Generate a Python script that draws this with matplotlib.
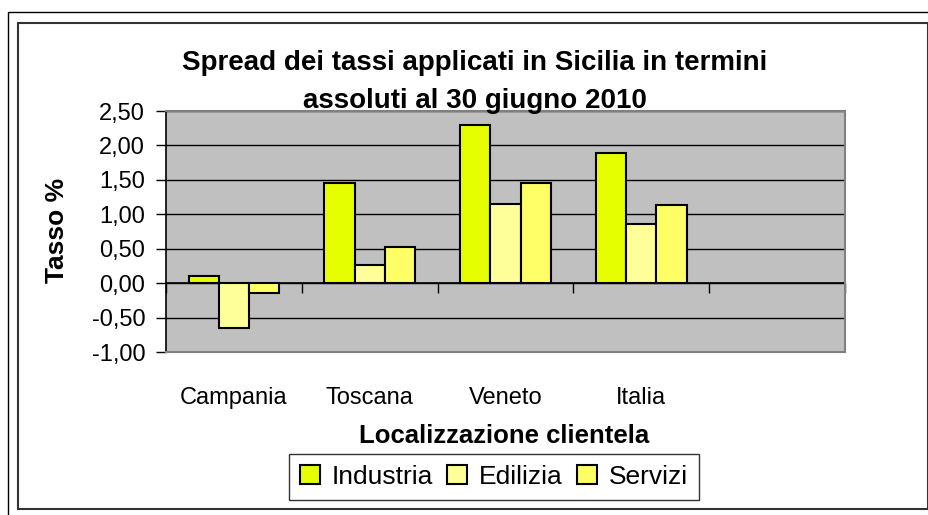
import matplotlib.pyplot as plt
import numpy as np
from matplotlib.patches import Rectangle
from matplotlib.ticker import FuncFormatter

plt.rcParams['font.family'] = ['Liberation Sans', 'DejaVu Sans']

# dati
regioni = ['Campania', 'Toscana', 'Veneto', 'Italia']
industria = [0.11, 1.45, 2.30, 1.89]
edilizia = [-0.65, 0.26, 1.15, 0.86]
servizi = [-0.14, 0.52, 1.45, 1.13]
serie = ['Industria', 'Edilizia', 'Servizi']
colori = ['#E6FF00', '#FFFF99', '#FFFF66']

fig = plt.figure(figsize=(9.29, 5.15), dpi=100)
ax = fig.add_axes([166/929, 1-352/515, 679/929, 241/515])

# cornici esterne
fig.patches.append(Rectangle((8/929, -0.2), 1.2, 1-12/515+0.2, transform=fig.transFigure,
                             fill=False, edgecolor='k', lw=1.0))
fig.patches.append(Rectangle((18/929, 1-509/515), 910/929, 486/515, transform=fig.transFigure,
                             fill=False, edgecolor='#333333', lw=1.5))

x = np.arange(len(regioni))
w = 1/4.5
valori = [industria, edilizia, servizi]
barre = []
for i in range(3):
    b = ax.bar(x + (i-1)*w, valori[i], w, color=colori[i], edgecolor='k', lw=1.5,
               zorder=3, label=serie[i])
    barre.append(b)

ax.set_facecolor('#C0C0C0')
ax.set_xlim(-0.5, 4.5)
ax.set_ylim(-1.0, 2.5)
ax.set_yticks(np.arange(-1.0, 2.51, 0.5))
ax.yaxis.set_major_formatter(FuncFormatter(lambda v, p: f'{v:.2f}'.replace('.', ',')))
ax.grid(axis='y', color='k', lw=1.0, zorder=1)
ax.tick_params(axis='y', direction='out', length=7, width=1, pad=8, labelsize=17)

ax.set_xticks(x)
ax.set_xticklabels(regioni)
ax.tick_params(axis='x', length=0, pad=25, labelsize=17)

for s in ['top', 'right', 'bottom']:
    ax.spines[s].set_color('#808080')
    ax.spines[s].set_linewidth(1.5)
ax.spines['left'].set_color('k')
ax.spines['left'].set_linewidth(1.2)

# asse delle categorie sullo zero
ymin, ymax = ax.get_ylim()
sec = ax.secondary_xaxis((0 - ymin)/(ymax - ymin))
sec.set_xticks(np.arange(-0.5, 4.6, 1.0))
sec.set_xticklabels([])
sec.tick_params(direction='out', length=7, width=1, color='k')
sec.spines['bottom'].set_color('k')
sec.spines['bottom'].set_linewidth(1.2)

fig.text(475/929, 1-82/515, 'Spread dei tassi applicati in Sicilia in termini\nassoluti al 30 giugno 2010',
         ha='center', va='center', fontsize=20, fontweight='bold', linespacing=1.6, zorder=5)
fig.text(57/929, 1-230/515, 'Tasso %', rotation=90, ha='center', va='center',
         fontsize=19, fontweight='bold')
fig.text(504/929, 1-436/515, 'Localizzazione clientela', ha='center', va='center',
         fontsize=18.5, fontweight='bold')

leg = fig.legend(handles=barre, labels=serie, loc='center', bbox_to_anchor=(494/929, 1-477/515),
                 ncol=3, fontsize=19, frameon=True, fancybox=False, handlelength=0.75,
                 handleheight=0.75, handletextpad=0.45, columnspacing=0.55, borderpad=0.4,
                 borderaxespad=0)
leg.get_frame().set_edgecolor('k')
leg.get_frame().set_linewidth(1.0)

fig.savefig('out.png', dpi=100)
